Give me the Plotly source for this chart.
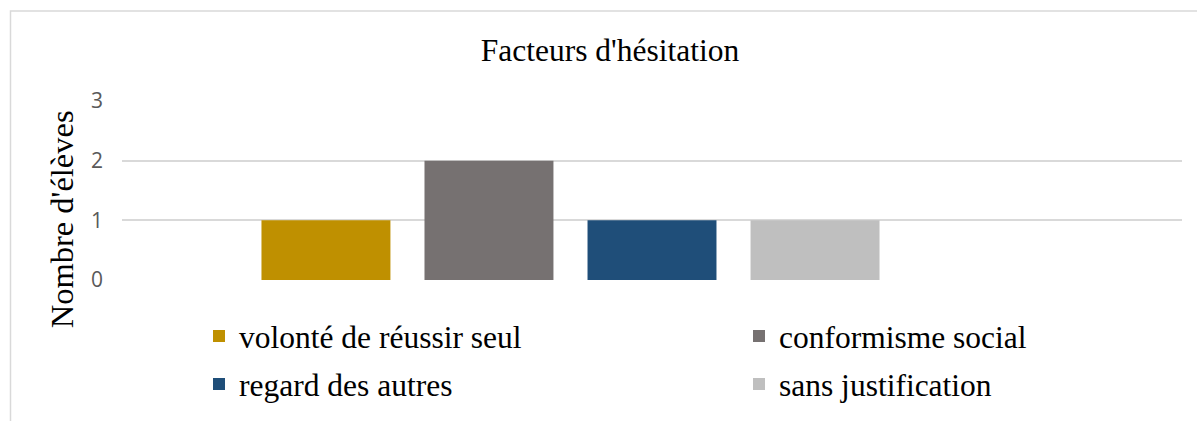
import plotly.graph_objects as go

# ---- data ----
categories = [""]
series_names = ["volonté de réussir seul", "conformisme social", "regard des autres", "sans justification", ""]
series_values = [1, 2, 1, 1, None]   # fifth series is empty in the original chart
series_colors = ["#BF9000", "#767171", "#1F4E79", "#BFBFBF", "#A5A5A5"]
legend_ids = ["legend", "legend2", "legend3", "legend4", None]
y_ticks = [0, 1, 2, 3]

title_text = "Facteurs d'hésitation"
y_title_text = "Nombre d'élèves"

W, H = 1197, 421
L, R, T, B = 122, 15, 101, 140
pw, ph = W - L - R, H - T - B

def px_x(x):
    return (x - L) / pw

def px_y(y):
    return (H - B - y) / ph

fig = go.Figure()
for name, val, col, lg in zip(series_names, series_values, series_colors, legend_ids):
    fig.add_trace(go.Bar(
        x=categories, y=[val], name=name,
        marker=dict(color=col, line=dict(width=0)),
        showlegend=lg is not None,
        legend=lg if lg else "legend",
    ))

serif = "Liberation Serif, Times New Roman, serif"

def legend_at(xpx, ypx_bottom):
    return dict(
        orientation="h",
        font=dict(family=serif, size=31.5, color="#000000"),
        bgcolor="rgba(0,0,0,0)", borderwidth=0, itemwidth=30,
        xanchor="left", yanchor="bottom",
        x=px_x(xpx), y=px_y(ypx_bottom),
    )

col_x = [199, 739]
row_bottom = [363, 411]

fig.update_layout(
    width=W, height=H,
    margin=dict(l=L, r=R, t=T, b=B, pad=0),
    paper_bgcolor="white", plot_bgcolor="white",
    barmode="group", bargap=0.231, bargroupgap=0.209,
    title=dict(text=title_text, xref="container", yref="container",
               x=610 / W, y=1 - 50 / H, xanchor="center", yanchor="middle",
               font=dict(family=serif, size=31.5, color="#000000")),
    showlegend=True,
    legend=legend_at(col_x[0], row_bottom[0]),
    legend2=legend_at(col_x[1], row_bottom[0]),
    legend3=legend_at(col_x[0], row_bottom[1]),
    legend4=legend_at(col_x[1], row_bottom[1]),
    xaxis=dict(showticklabels=False, showgrid=False, zeroline=False, showline=False, ticks=""),
    yaxis=dict(range=[0, 3], tickvals=y_ticks, showgrid=True, gridcolor="#D9D9D9", gridwidth=1.5,
               zeroline=False, showline=False, ticks="", ticklabelstandoff=18,
               tickfont=dict(family="Open Sans, Calibri, sans-serif", size=21, color="#595959")),
    annotations=[dict(text=y_title_text, textangle=-90, xref="paper", yref="paper",
                      x=px_x(62), y=px_y(220), xanchor="center", yanchor="middle",
                      showarrow=False, font=dict(family=serif, size=32.5, color="#000000"))],
    shapes=[dict(type="rect", xref="paper", yref="paper",
                 x0=px_x(10.5), x1=px_x(1210), y0=px_y(440), y1=px_y(10.5),
                 line=dict(color="#D9D9D9", width=1.5), fillcolor="rgba(0,0,0,0)", layer="below")],
)

fig.write_html("out.html", config={"displayModeBar": False},
               post_script="document.body.style.margin='0';")
